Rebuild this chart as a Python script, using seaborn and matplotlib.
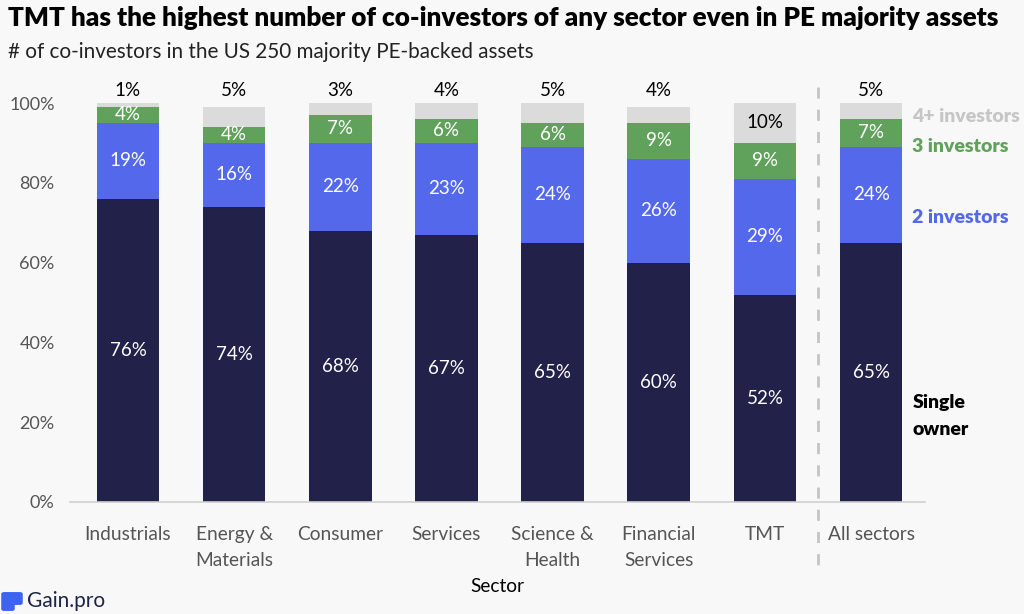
import numpy as np
import pandas as pd
import matplotlib.pyplot as plt
import matplotlib.patches as mpatches
import seaborn as sns

# data (% of assets)
sectors = ['Industrials', 'Energy &\nMaterials', 'Consumer', 'Services', 'Science &\nHealth',
           'Financial\nServices', 'TMT', 'All sectors']
single_owner = [76, 74, 68, 67, 65, 60, 52, 65]
two_investors = [19, 16, 22, 23, 24, 26, 29, 24]
three_investors = [4, 4, 7, 6, 6, 9, 9, 7]
four_plus = [1, 5, 3, 4, 5, 4, 10, 5]

series_names = ['Single owner', '2 investors', '3 investors', '4+ investors']
colors = ['#22214A', '#5468EC', '#60A25B', '#DBDBDB']

bg = '#F8F8F8'
sns.set_theme(style='white')
plt.rcParams['font.family'] = ['Lato', 'DejaVu Sans']

df = pd.DataFrame({'Sector': sectors, 'Single owner': single_owner, '2 investors': two_investors,
                   '3 investors': three_investors, '4+ investors': four_plus})
cum = df[series_names].cumsum(axis=1)

fig = plt.figure(figsize=(10.24, 6.14), dpi=100, facecolor=bg)
ax = fig.add_axes([70 / 1024, 1 - 502 / 614, 855 / 1024, 399 / 614])
ax.set_facecolor(bg)

# stacked bars: draw cumulative totals from the top layer down
for name, col in reversed(list(zip(series_names, colors))):
    sns.barplot(x=df['Sector'], y=cum[name], order=sectors, color=col, width=0.59,
                saturation=1, linewidth=0, ax=ax)

# segment labels
fs = 13.5
for i in range(len(sectors)):
    base = 0
    for name, col in zip(series_names, colors):
        v = df[name].iloc[i]
        if name == '4+ investors':
            if v >= 8:
                ax.text(i, base + v / 2, f'{v}%', ha='center', va='center', color='black', fontsize=fs)
            else:
                ax.text(i, 101, f'{v}%', ha='center', va='bottom', color='black', fontsize=fs)
        else:
            ax.text(i, base + v / 2, f'{v}%', ha='center', va='center', color='white', fontsize=fs)
        base += v

# series labels on the right
lx = 7.39
lkw = dict(fontsize=14, fontweight='heavy', va='center', ha='left')
ax.text(lx, 96.7, '4+ investors', color='#C6C6C6', **lkw)
ax.text(lx, 89.2, '3 investors', color='#60A25B', **lkw)
ax.text(lx, 71.2, '2 investors', color='#5468EC', **lkw)
ax.text(lx, 21.5, 'Single\nowner', color='black', linespacing=1.7, **lkw)

# dashed separator before "All sectors"
ax.plot([6.5, 6.5], [104, -15.8], color='#C4C4C4', lw=2, ls=(0, (4, 4)), clip_on=False)

ax.set_xlim(-0.546, 7.508)
ax.set_ylim(0, 100)
ax.set_yticks([0, 20, 40, 60, 80, 100])
ax.set_yticklabels([f'{t}%' for t in [0, 20, 40, 60, 80, 100]])
ax.tick_params(axis='y', length=0, pad=11, labelsize=13, labelcolor='#555555')
ax.tick_params(axis='x', length=0, pad=17, labelsize=13.8, labelcolor='#555555')
for lab in ax.get_xticklabels():
    lab.set_linespacing(1.7)
ax.set_ylabel('')
ax.set_xlabel('Sector', fontsize=13.8, color='black', labelpad=6)
for s in ['top', 'right', 'left']:
    ax.spines[s].set_visible(False)
ax.spines['bottom'].set_color('#D0D0D0')
ax.spines['bottom'].set_linewidth(1.2)

fig.text(8 / 1024, 1 - 18 / 614, 'TMT has the highest number of co-investors of any sector even in PE majority assets',
         fontsize=18.8, fontweight='heavy', color='black', va='center', ha='left')
fig.text(8 / 1024, 1 - 52 / 614, '# of co-investors in the US 250 majority PE-backed assets',
         fontsize=14.9, color='#222222', va='center', ha='left')

# logo
fig.patches.append(mpatches.FancyBboxPatch((4 / 1024, 1 - 609 / 614), 8 / 1024, 15 / 614,
                                           boxstyle='round,pad=0.002', color='#3D63F0',
                                           transform=fig.transFigure, figure=fig))
fig.patches.append(mpatches.FancyBboxPatch((14 / 1024, 1 - 603 / 614), 6 / 1024, 9 / 614,
                                           boxstyle='round,pad=0.002', color='#3D63F0',
                                           transform=fig.transFigure, figure=fig))
fig.text(27 / 1024, 1 - 601 / 614, 'Gain.pro', fontsize=15, color='#1E2447', va='center', ha='left')

fig.savefig('out.png', dpi=100, facecolor=bg)
